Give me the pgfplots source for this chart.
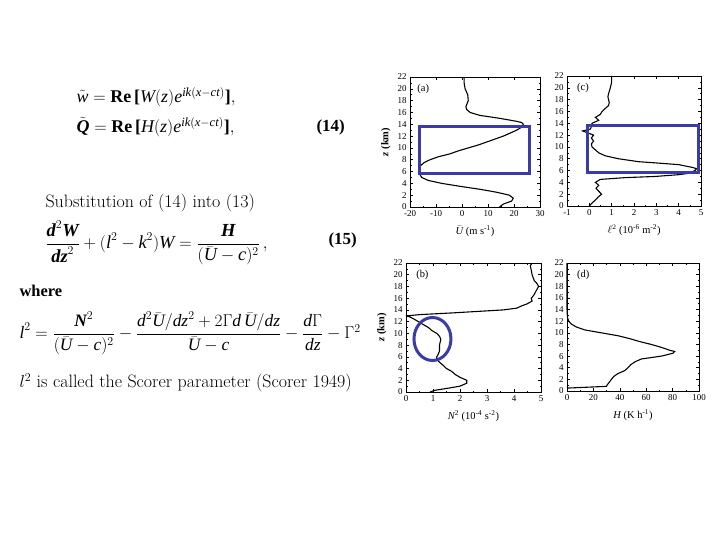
\documentclass[border=0pt]{standalone}
\usepackage{amsmath}
\usepackage{fontspec}
\usepackage{pgfplots}
\pgfplotsset{compat=1.18}
\newfontfamily\tms{Liberation Serif}
\newcommand{\I}[1]{\text{\tms\itshape #1}}
\newcommand{\B}[1]{\text{\tms\bfseries #1}}
\newcommand{\BI}[1]{\text{\tms\bfseries\itshape #1}}
\definecolor{boxblue}{RGB}{58,58,168}

\pgfplotsset{
  panel/.style={
    scale only axis, anchor=south west,
    ymin=0, ymax=22, ytick={0,2,...,22},
    minor x tick num=1, minor y tick num=1,
    tick align=inside, major tick length=3bp, minor tick length=1.5bp,
    axis line style={line width=0.7pt},
    every tick/.style={black, line width=0.5pt},
    /pgf/number format/assume math mode=true,
    tick label style={font=\tms\fontsize{9}{10}\selectfont},
    xlabel style={font=\tms\fontsize{10.5}{11}\selectfont, yshift=-2bp},
    ylabel style={font=\tms\bfseries\fontsize{10.5}{11}\selectfont},
    clip=false,
  },
  prof/.style={black, line width=1.1pt, mark=none},
}
\tikzset{lbl/.style={anchor=west, font=\tms\fontsize{10.5}{11}\selectfont}}

\begin{document}
\begin{tikzpicture}[x=1bp,y=1bp]
\useasboundingbox (0,0) rectangle (720,-540);
\fill[white] (0,0) rectangle (720,-540);

% equations and text on the left
\node[anchor=west, font=\fontsize{18}{21}\selectfont] at (73,-97)
  {$\tilde{\I{w}} = \B{Re}\,\B{[}\I{W}(\I{z})\I{e}^{\I{ik}(\I{x}-\I{ct})}\B{]},$};
\node[anchor=west, font=\fontsize{18}{21}\selectfont] at (73,-127)
  {$\tilde{\BI{Q}} = \B{Re}\,\B{[}\I{H}(\I{z})\I{e}^{\I{ik}(\I{x}-\I{ct})}\B{]},$};
\node[anchor=west, font=\tms\bfseries\fontsize{17}{20}\selectfont] at (313,-127) {(14)};
\node[anchor=west, font=\fontsize{18}{20}\selectfont] at (42,-203) {Substitution of (14) into (13)};
\node[anchor=west, font=\fontsize{18.5}{21}\selectfont] at (42,-243)
  {$\dfrac{\BI{d}^2\BI{W}}{\BI{dz}^2} + (\I{l}^2 - \I{k}^2)\I{W} = \dfrac{\BI{H}}{(\bar{\I{U}} - \I{c})^2}\,,$};
\node[anchor=west, font=\tms\bfseries\fontsize{17}{20}\selectfont] at (325,-240) {(15)};
\node[anchor=west, font=\tms\bfseries\fontsize{16.5}{20}\selectfont] at (16,-291) {where};
\node[anchor=west, font=\fontsize{17.5}{21}\selectfont] at (16,-333)
  {$\I{l}^2 = \dfrac{\BI{N}^2}{(\bar{\I{U}}-\I{c})^2} - \dfrac{\I{d}^2\bar{\I{U}}/\I{dz}^2 + 2\Gamma \I{d}\,\bar{\I{U}}/\I{dz}}{\bar{\I{U}}-\I{c}} - \dfrac{\I{d}\Gamma}{\I{dz}} - \Gamma^2$};
\node[anchor=west, font=\fontsize{18}{21}\selectfont] at (16,-383) {$l^2$ is called the Scorer parameter (Scorer 1949)};

% (a) mean wind
\begin{axis}[panel, at={(410bp,-207bp)}, width=130bp, height=130bp,
  xmin=-20, xmax=30, xtick={-20,-10,...,30},
  xlabel={$\bar{\I{U}}$ (m s\textsuperscript{-1})},
  ylabel={\itshape z \upshape(km)}]
\addplot[prof] coordinates {
(14.4,0) (15.9,0.5) (19.1,1) (19.7,1.5) (18.2,2) (13.3,2.5) (6.9,3) (-0.8,3.5)
(-7.8,4) (-13,4.5) (-15.5,5) (-16.2,5.5) (-16.5,6) (-16.6,6.5) (-15.9,7) (-14.6,7.5)
(-12.3,8) (-9.1,8.5) (-4.6,9) (-1.4,9.5) (2.4,10) (6.3,10.5) (9.5,11) (12.7,11.5)
(15.9,12) (18.5,12.5) (21.0,13) (22.9,13.5) (23.6,14) (22.9,14.3) (21,14.5) (14.6,15)
(6.9,15.5) (3.1,16) (1.8,16.5) (1.5,17) (2.4,18) (2.2,19) (1.2,20) (0.8,21) (0.8,22)
};
\node[lbl] at (rel axis cs:0.03,0.91) {(a)};
\draw[boxblue, line width=3bp] (axis cs:-16.2,5.6) rectangle (axis cs:25.8,13.7);
\end{axis}

% (c) Scorer parameter
\begin{axis}[panel, at={(567bp,-206bp)}, width=134bp, height=130bp,
  xmin=-1, xmax=5, xtick={-1,0,...,5},
  xlabel={$\ell^2$ (10\textsuperscript{-6} m\textsuperscript{-2})}]
\addplot[prof] coordinates {
(0,0) (0.12,0.5) (0.27,1) (0.39,1.5) (0.55,2) (0.42,2.5) (0.3,3) (0.42,3.5)
(0.27,4) (0.49,4.5) (1.6,4.8) (2.95,5) (4.0,5.3) (4.4,5.5) (4.73,6) (4.8,6.3)
(4.65,6.5) (4.0,7) (2.95,7.3) (2.2,7.5) (1.3,8) (0.71,8.5) (0.42,9) (0.27,9.5)
(0.12,10) (0.09,10.5) (0.19,11) (0.09,11.5) (0.19,12) (-0.3,12.7) (0.04,13) (0.1,13.5)
(0.12,14) (0.42,14.5) (0.27,15) (0.49,15.5) (0.57,16) (0.71,16.5) (0.86,17) (0.89,17.5)
(0.86,18) (0.83,18.5) (0.86,19) (0.94,20) (1.0,21) (1.0,22)
};
\node[lbl] at (rel axis cs:0.05,0.91) {(c)};
\draw[boxblue, line width=3bp] (axis cs:-0.1,5.6) rectangle (axis cs:4.87,13.7);
\end{axis}

% (b) static stability
\begin{axis}[panel, at={(406bp,-392bp)}, width=135bp, height=129bp,
  xmin=0, xmax=5, xtick={0,1,...,5},
  xlabel={\itshape N\textsuperscript{\upshape 2} \upshape(10\textsuperscript{-4} s\textsuperscript{-2})},
  ylabel={\itshape z \upshape(km)}]
\addplot[prof] coordinates {
(0.89,0) (1.08,0.3) (1.63,0.7) (2.0,1) (2.25,1.5) (2.25,2) (2.0,2.5) (1.82,3)
(1.7,3.5) (1.5,4) (1.39,4.5) (1.26,5) (1.14,5.5) (1.14,6) (1.2,6.5) (1.24,7)
(1.24,8) (1.29,9) (1.24,9.5) (1.14,10) (0.95,10.5) (0.83,11) (0.64,11.5) (0.46,12)
(0.27,12.5) (0.05,13) (0.52,13.2) (1.76,13.5) (3.6,14) (4.1,14.3) (4.29,14.7) (4.47,15)
(4.67,15.5) (4.64,16) (4.73,16.5) (4.79,17) (4.85,17.5) (4.91,18) (4.85,18.5) (4.75,19)
(4.67,20) (4.63,21) (4.6,21.5) (4.67,22)
};
\node[lbl] at (rel axis cs:0.05,0.91) {(b)};
\draw[boxblue, line width=3bp] (axis cs:0.98,9.04) ellipse [x radius=18.5bp, y radius=21.5bp];
\end{axis}

% (d) heating
\begin{axis}[panel, at={(567bp,-391bp)}, width=132bp, height=128bp,
  xmin=0, xmax=100, xtick={0,20,...,100},
  xlabel={\itshape H \upshape(K h\textsuperscript{-1})}]
\addplot[prof] coordinates {
(0,0.5) (30,0.8) (30.3,1) (33.6,2) (35.4,2.5) (38.6,3) (43.7,3.5) (46.2,4)
(48.2,4.5) (51.3,5) (56.3,5.5) (71.5,6) (80.3,6.5) (81.6,6.8) (77.8,7) (71.5,7.5)
(63.9,8) (55,8.5) (47.5,9) (38.6,9.5) (26,10) (13.4,10.5) (7.1,11) (3.3,11.5)
(1.3,12) (0.5,12.5) (0.25,13) (0,14) (0,22)
};
\node[lbl] at (rel axis cs:0.05,0.91) {(d)};
\end{axis}
\end{tikzpicture}
\end{document}
